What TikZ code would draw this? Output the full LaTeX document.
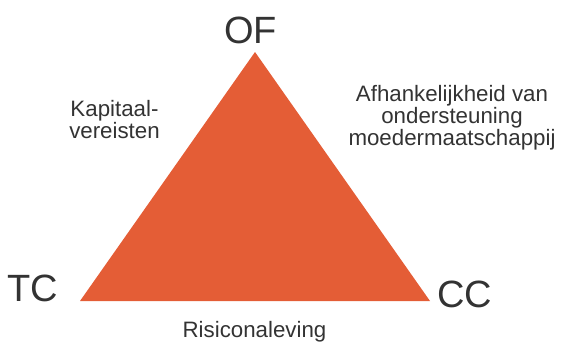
\documentclass[tikz,border=0pt]{standalone}
\usepackage{fontspec}
\setmainfont{Liberation Sans}
\definecolor{triorange}{RGB}{228,93,54}
\definecolor{labelgray}{RGB}{51,51,51}
\begin{document}
\begin{tikzpicture}[x=1pt,y=-1pt,
  corner/.style={text=labelgray,inner sep=0pt,anchor=base,font=\fontsize{38}{40}\selectfont},
  side/.style={text=labelgray,inner sep=0pt,anchor=base,align=center,font=\fontsize{22.3}{21.8}\selectfont}]
\useasboundingbox (0,0) rectangle (564,341);
% triangle
\coordinate (top) at (255,52);
\coordinate (bl) at (80,301);
\coordinate (br) at (430,301);
\fill[triorange] (top) -- (bl) -- (br) -- cycle;
% corner labels
\node[corner] (of) at (250.5,43) {OF};
\node[corner] (tc) at (33,301) {TC};
\node[corner] (cc) at (464.5,307) {CC};
% side labels (base anchor sits on the last line)
\node[side] (kap) at (114.5,138.5) {Kapitaal-\\vereisten};
\node[side] (afh) at (452,145) {Afhankelijkheid van\\ondersteuning\\moedermaatschappij};
\node[side] (ris) at (254.5,337) {Risiconaleving};
\end{tikzpicture}
\end{document}
